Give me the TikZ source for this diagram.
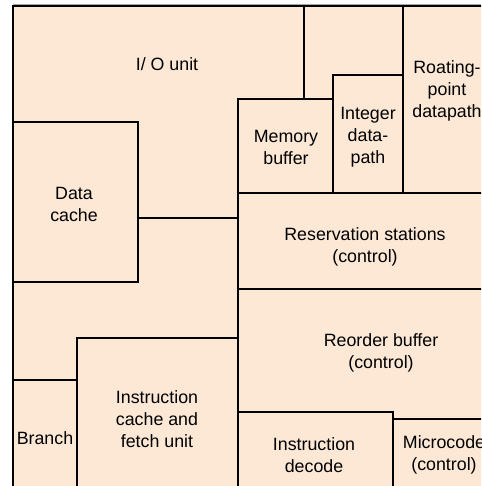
\documentclass[tikz,border=0pt]{standalone}
\usepackage{fontspec}
\setmainfont{Liberation Sans}
\usepackage{xcolor}
\usepackage{tikz}
\definecolor{diefill}{RGB}{252,232,213}

\begin{document}
\begin{tikzpicture}[x=1pt, y=-1pt,
  wall/.style={line width=2.6pt, line cap=rect, black},
  lbl/.style={font=\fontsize{17.8}{22}\selectfont, align=center, inner sep=0pt}]
\useasboundingbox (0,0) rectangle (481,486);
\clip (0,0) rectangle (481,486);
% die area and outline
\fill[diefill] (13,6) rectangle (495,495);
\draw[gray!70, line width=1pt] (13,4.2) -- (495,4.2);
\draw[wall] (495,6) -- (13,6) -- (13,495);
% upper blocks
\draw[wall] (304,6) -- (304,99);
\draw[wall] (403,6) -- (403,193);
\draw[wall] (333,193) -- (333,75) -- (403,75);
\draw[wall] (238,495) -- (238,99) -- (333,99);
\draw[wall] (238,193) -- (495,193);
\draw[wall] (13,122) -- (138,122) -- (138,282) -- (13,282);
\draw[wall] (138,218) -- (238,218);
% lower blocks
\draw[wall] (238,289) -- (495,289);
\draw[wall] (238,412) -- (393,412) -- (393,495);
\draw[wall] (393,419) -- (495,419);
\draw[wall] (77,495) -- (77,338) -- (238,338);
\draw[wall] (13,380) -- (77,380);
% block names
\node[lbl] (io) at (167,64) {I/ O unit};
\node[lbl] (dcache) at (74,204) {Data\\cache};
\node[lbl] (membuf) at (286,147) {Memory\\buffer};
\node[lbl] (intdp) at (368,137) {Integer\\data-\\path};
\node[lbl] (fpdp) at (447,91) {Roating-\\point\\datapath};
\node[lbl] (resst) at (365,247) {Reservation stations\\(control)};
\node[lbl] (rob) at (381,353) {Reorder buffer\\(control)};
\node[lbl] (icache) at (157,419) {Instruction\\cache and\\fetch unit};
\node[lbl] (branch) at (45,438) {Branch};
\node[lbl] (idecode) at (314,455) {Instruction\\decode};
\node[lbl] (ucode) at (444,455) {Microcode\\(control)};
\end{tikzpicture}
\end{document}
